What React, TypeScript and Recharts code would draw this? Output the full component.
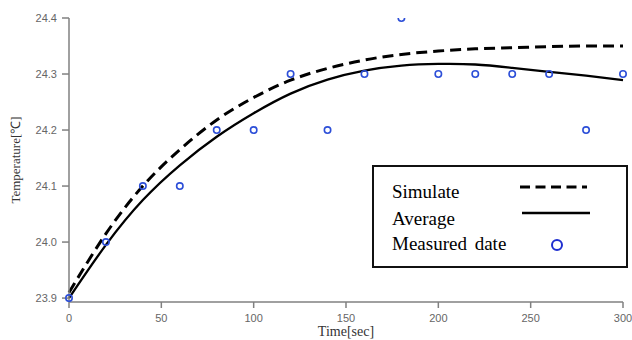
import { ComposedChart, Line, Scatter, XAxis, YAxis, Legend } from 'recharts';

const times = [0, 20, 40, 60, 80, 100, 120, 140, 160, 180, 200, 220, 240, 260, 280, 300];
const simulate = [23.91, 24.015, 24.1, 24.165, 24.218, 24.258, 24.289, 24.31, 24.325, 24.335, 24.341, 24.345, 24.347, 24.349, 24.35, 24.35];
const average = [23.9, 23.995, 24.075, 24.137, 24.188, 24.23, 24.265, 24.29, 24.306, 24.315, 24.318, 24.317, 24.311, 24.304, 24.297, 24.289];
const measured = [23.9, 24.0, 24.1, 24.1, 24.2, 24.2, 24.3, 24.2, 24.3, 24.4, 24.3, 24.3, 24.3, 24.3, 24.2, 24.3];
const xTicks = [0, 50, 100, 150, 200, 250, 300];
const yTicks = [23.9, 24.0, 24.1, 24.2, 24.3, 24.4];

const data = times.map((t, i) => ({ t, sim: simulate[i], avg: average[i], meas: measured[i] }));

const AXIS = '#808080';
const TICK_FONT = '"Liberation Sans", Arial, sans-serif';
const SERIF = '"Liberation Serif", "Times New Roman", serif';
const BLUE = '#2d4fd8';

const Ring = (props: any) => {
  const { cx, cy } = props;
  if (cx == null || cy == null) return null;
  return <circle cx={cx} cy={cy} r={3.2} fill="none" stroke={BLUE} strokeWidth={1.6} />;
};

const LegendBox = () => (
  <div
    style={{
      position: 'relative',
      width: 252,
      height: 99,
      border: '2px solid #111',
      background: '#fff',
      fontFamily: SERIF,
      fontSize: 19,
      lineHeight: '22px',
      color: '#000',
    }}
  >
    <div style={{ position: 'absolute', left: 18, top: 14 }}>Simulate</div>
    <div style={{ position: 'absolute', left: 18, top: 41 }}>Average</div>
    <div style={{ position: 'absolute', left: 18, top: 66, wordSpacing: 3 }}>Measured date</div>
    <svg width={252} height={99} style={{ position: 'absolute', left: 0, top: 0 }}>
      <line x1={146} y1={20} x2={213} y2={20} stroke="#000" strokeWidth={3} strokeDasharray="10 5.5" />
      <line x1={148} y1={46} x2={216} y2={46} stroke="#000" strokeWidth={2.5} />
      <circle cx={183} cy={78} r={5} fill="none" stroke="#1f2fd0" strokeWidth={2} />
    </svg>
  </div>
);

export default function App() {
  return (
    <div style={{ position: 'absolute', left: 0, top: 0, background: '#fff' }}>
      <ComposedChart width={632} height={340} data={data} margin={{ top: 18, right: 9, left: 0, bottom: 0 }}>
        <XAxis
          dataKey="t"
          type="number"
          domain={[0, 300]}
          ticks={xTicks}
          height={38}
          stroke={AXIS}
          strokeWidth={1.5}
          tickSize={6}
          tickMargin={6}
          tick={{ fill: '#666', fontSize: 11, fontFamily: TICK_FONT }}
          label={{
            content: (p: any) => (
              <text
                x={p.viewBox.x + p.viewBox.width / 2}
                y={p.viewBox.y + 34}
                textAnchor="middle"
                fontFamily={SERIF}
                fontSize={14}
                fill="#333"
              >
                Time[sec]
              </text>
            ),
          }}
        />
        <YAxis
          type="number"
          domain={[23.893, 24.4]}
          ticks={yTicks}
          allowDataOverflow
          width={69}
          stroke={AXIS}
          strokeWidth={1.5}
          tickSize={7}
          tickMargin={5}
          tick={{ fill: '#666', fontSize: 11, fontFamily: TICK_FONT }}
          tickFormatter={(v: number) => v.toFixed(1)}
          label={{
            content: () => (
              <text
                x={17}
                y={160}
                transform="rotate(-90 17 160)"
                textAnchor="middle"
                dominantBaseline="middle"
                fontFamily={SERIF}
                fontSize={13}
                fill="#333"
              >
                Temperature[℃]
              </text>
            ),
          }}
        />
        <Line dataKey="sim" type="natural" stroke="#000" strokeWidth={3} strokeDasharray="11 6" dot={false} isAnimationActive={false} />
        <Line dataKey="avg" type="natural" stroke="#000" strokeWidth={2.3} dot={false} isAnimationActive={false} />
        <Scatter dataKey="meas" shape={<Ring />} isAnimationActive={false} />
        <Legend
          layout="vertical"
          align="center"
          verticalAlign="middle"
          wrapperStyle={{ left: 372, top: 165, width: 256, height: 103 }}
          content={() => <LegendBox />}
        />
      </ComposedChart>
    </div>
  );
}
